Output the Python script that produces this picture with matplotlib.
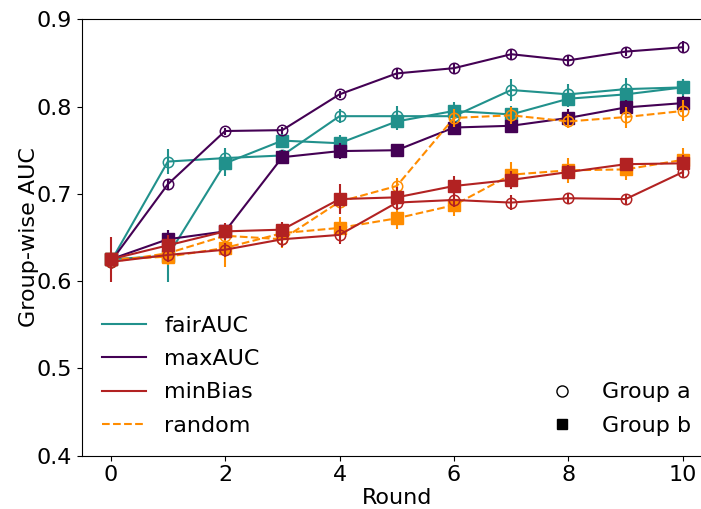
import matplotlib
matplotlib.use("Agg")
import matplotlib.pyplot as plt
from matplotlib.lines import Line2D

rounds = list(range(11))

fair_a = [0.622, 0.737, 0.741, 0.744, 0.789, 0.789, 0.789, 0.819, 0.814, 0.820, 0.822]
fair_b = [0.625, 0.629, 0.735, 0.761, 0.758, 0.783, 0.795, 0.791, 0.809, 0.814, 0.822]
max_a = [0.622, 0.711, 0.772, 0.773, 0.814, 0.838, 0.844, 0.860, 0.853, 0.863, 0.868]
max_b = [0.625, 0.648, 0.657, 0.742, 0.749, 0.750, 0.776, 0.778, 0.787, 0.799, 0.804]
minb_a = [0.622, 0.630, 0.636, 0.648, 0.653, 0.690, 0.693, 0.690, 0.695, 0.694, 0.725]
minb_b = [0.625, 0.641, 0.657, 0.659, 0.694, 0.696, 0.709, 0.716, 0.725, 0.734, 0.735]
rand_a = [0.622, 0.632, 0.652, 0.648, 0.691, 0.709, 0.787, 0.790, 0.783, 0.788, 0.795]
rand_b = [0.625, 0.628, 0.638, 0.655, 0.661, 0.672, 0.687, 0.722, 0.727, 0.728, 0.739]

fair_a_err = [0.004, 0.014, 0.012, 0.006, 0.008, 0.012, 0.010, 0.013, 0.012, 0.013, 0.010]
fair_b_err = [0.004, 0.030, 0.015, 0.008, 0.010, 0.010, 0.010, 0.010, 0.010, 0.010, 0.010]
max_a_err = [0.004, 0.006, 0.004, 0.004, 0.004, 0.005, 0.006, 0.005, 0.006, 0.005, 0.007]
max_b_err = [0.004, 0.011, 0.008, 0.008, 0.009, 0.007, 0.008, 0.008, 0.010, 0.008, 0.008]
minb_a_err = [0.008, 0.008, 0.008, 0.009, 0.010, 0.009, 0.008, 0.009, 0.006, 0.006, 0.007]
minb_b_err = [0.026, 0.012, 0.010, 0.009, 0.017, 0.012, 0.012, 0.010, 0.008, 0.007, 0.009]
rand_a_err = [0.008, 0.010, 0.010, 0.010, 0.010, 0.009, 0.010, 0.010, 0.008, 0.012, 0.012]
rand_b_err = [0.008, 0.010, 0.022, 0.012, 0.012, 0.012, 0.012, 0.014, 0.014, 0.012, 0.014]

methods = ["fairAUC", "maxAUC", "minBias", "random"]
colors = {"fairAUC": "#21918c", "maxAUC": "#440154", "minBias": "#b22222", "random": "#ff8c00"}
styles = {"fairAUC": "-", "maxAUC": "-", "minBias": "-", "random": "--"}
data = {
    "fairAUC": (fair_a, fair_a_err, fair_b, fair_b_err),
    "maxAUC": (max_a, max_a_err, max_b, max_b_err),
    "minBias": (minb_a, minb_a_err, minb_b, minb_b_err),
    "random": (rand_a, rand_a_err, rand_b, rand_b_err),
}
draw_order = ["fairAUC", "maxAUC", "random", "minBias"]

plt.rcParams["font.family"] = ["DejaVu Sans"]
plt.rcParams["font.size"] = 16

fig = plt.figure(figsize=(7.01, 5.09), dpi=100)
W, H = 701, 509
ax = fig.add_axes([82 / W, 1 - 455.7 / H, (711.5 - 82) / W, (455.7 - 19.3) / H])

for z, m in enumerate(draw_order):
    a, ae, b, be = data[m]
    c = colors[m]
    ax.errorbar(rounds, a, yerr=ae, color=c, ls=styles[m], lw=1.5, marker="o",
                ms=7.5, mfc="none", mec=c, mew=1.1, elinewidth=1.5, capsize=0, zorder=2 + z)
    ax.errorbar(rounds, b, yerr=be, color=c, ls=styles[m], lw=1.5, marker="s",
                ms=8, mfc=c, mec=c, elinewidth=1.5, capsize=0, zorder=2 + z)

ax.spines["right"].set_visible(False)
ax.set_xlim(-0.5, 10.5)
ax.set_ylim(0.4, 0.9)
ax.set_xticks([0, 2, 4, 6, 8, 10])
ax.set_yticks([0.4, 0.5, 0.6, 0.7, 0.8, 0.9])
ax.set_xlabel("Round", labelpad=2)
ax.set_ylabel("Group-wise AUC", labelpad=-1.5)

h1 = [Line2D([0], [0], color=colors[m], ls=styles[m], lw=1.5) for m in methods]
leg1 = ax.legend(h1, methods, loc="lower left", frameon=False, labelspacing=0.6)
ax.add_artist(leg1)
h2 = [Line2D([0], [0], color="black", ls="none", marker="o", mfc="none", ms=8),
      Line2D([0], [0], color="black", ls="none", marker="s", ms=7)]
ax.legend(h2, ["Group a", "Group b"], loc="lower right", frameon=False, labelspacing=0.6)

fig.savefig("out.png", dpi=100)
